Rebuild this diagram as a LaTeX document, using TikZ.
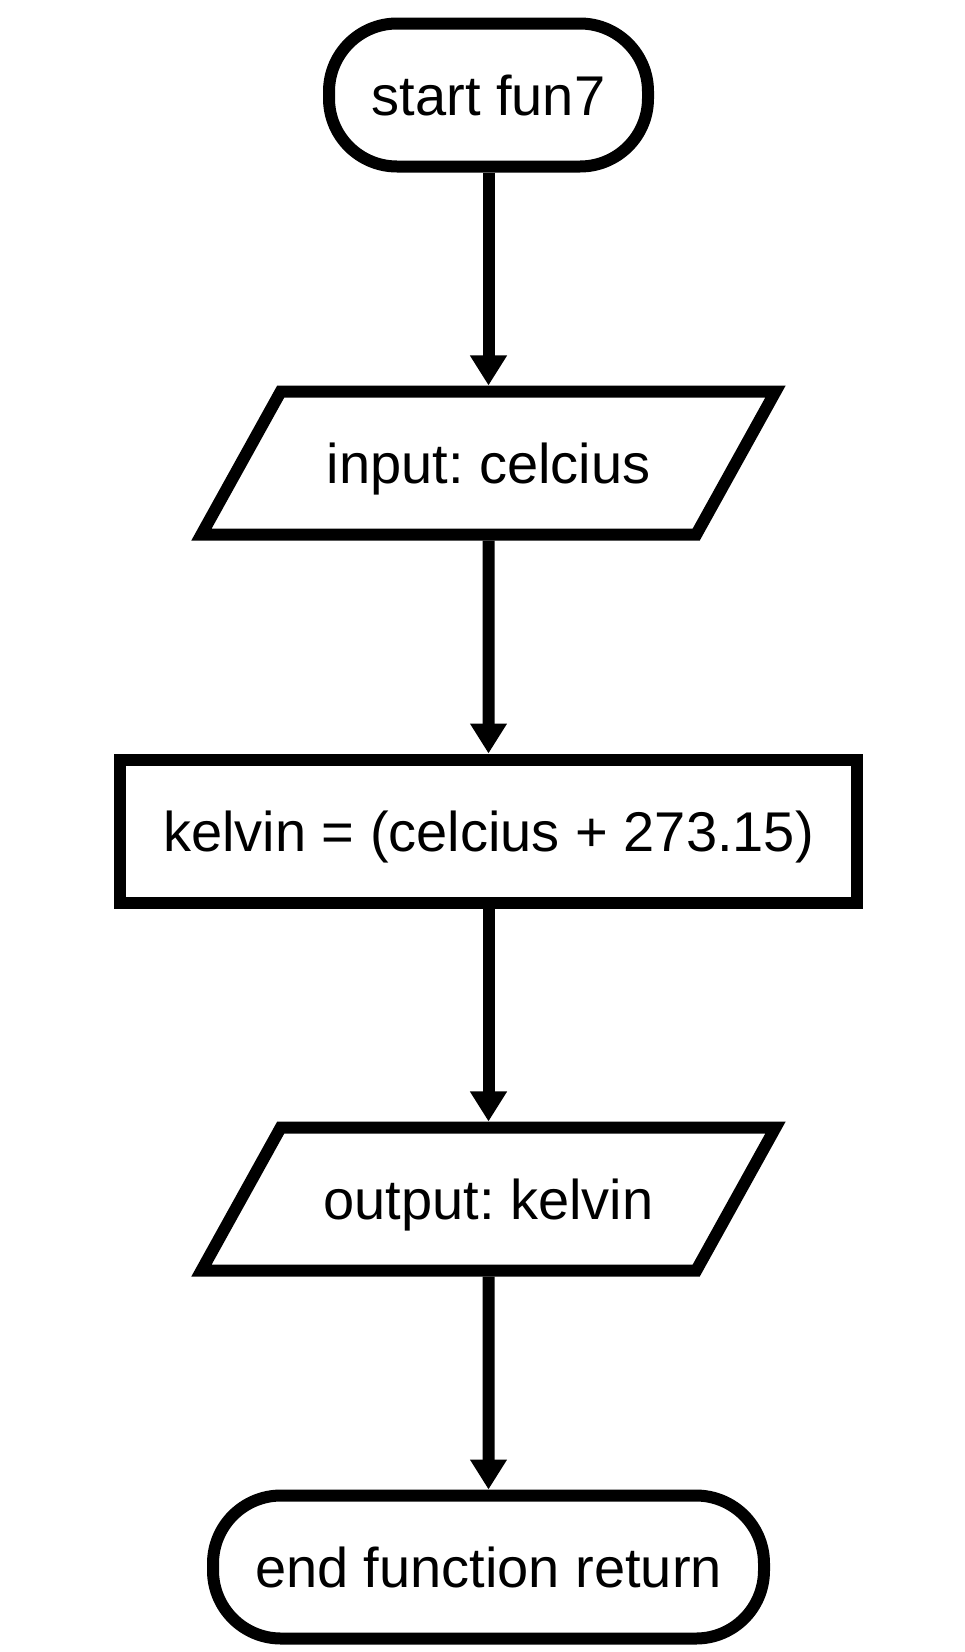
\documentclass[tikz,border=0pt]{standalone}
\usepackage{fontspec}
\setmainfont{Liberation Sans}
\frenchspacing
\usepackage{xcolor}
\usepackage{tikz}
\usetikzlibrary{shapes.geometric, arrows.meta, positioning}

\begin{document}
\begin{tikzpicture}[
    node distance=368pt,
    every node/.style={font=\fontsize{56pt}{67pt}\selectfont, text height=41pt, text depth=0pt},
    startstop/.style={rectangle, rounded corners=68pt, minimum height=143pt, text centered, draw=black, line width=12pt},
    io/.style={trapezium, trapezium left angle=61, trapezium right angle=119, trapezium stretches body=true, inner ysep=51pt, minimum width=574pt, text centered, draw=black, line width=12pt},
    process/.style={rectangle, minimum width=737pt, minimum height=143pt, text centered, draw=black, line width=12pt},
    arrow/.style={line width=12pt, -{Triangle[length=30pt, width=35pt]}}
]
    \useasboundingbox (0,0) rectangle (965pt,-1652pt);

    \node (start) [startstop, minimum width=319pt] at (488.5pt,-95pt) {start fun7};
    \node (input) [io, below of=start] {input: celcius};
    \node (kelvin) [process, below of=input] {kelvin = (celcius + 273.15)};
    \node (output) [io, below of=kelvin] {output: kelvin};
    \node (stop) [startstop, minimum width=551pt, below of=output] {end function return};

    \draw [arrow] (start) -- (input);
    \draw [arrow] (input) -- (kelvin);
    \draw [arrow] (kelvin) -- (output);
    \draw [arrow] (output) -- (stop);

\end{tikzpicture}
\end{document}
